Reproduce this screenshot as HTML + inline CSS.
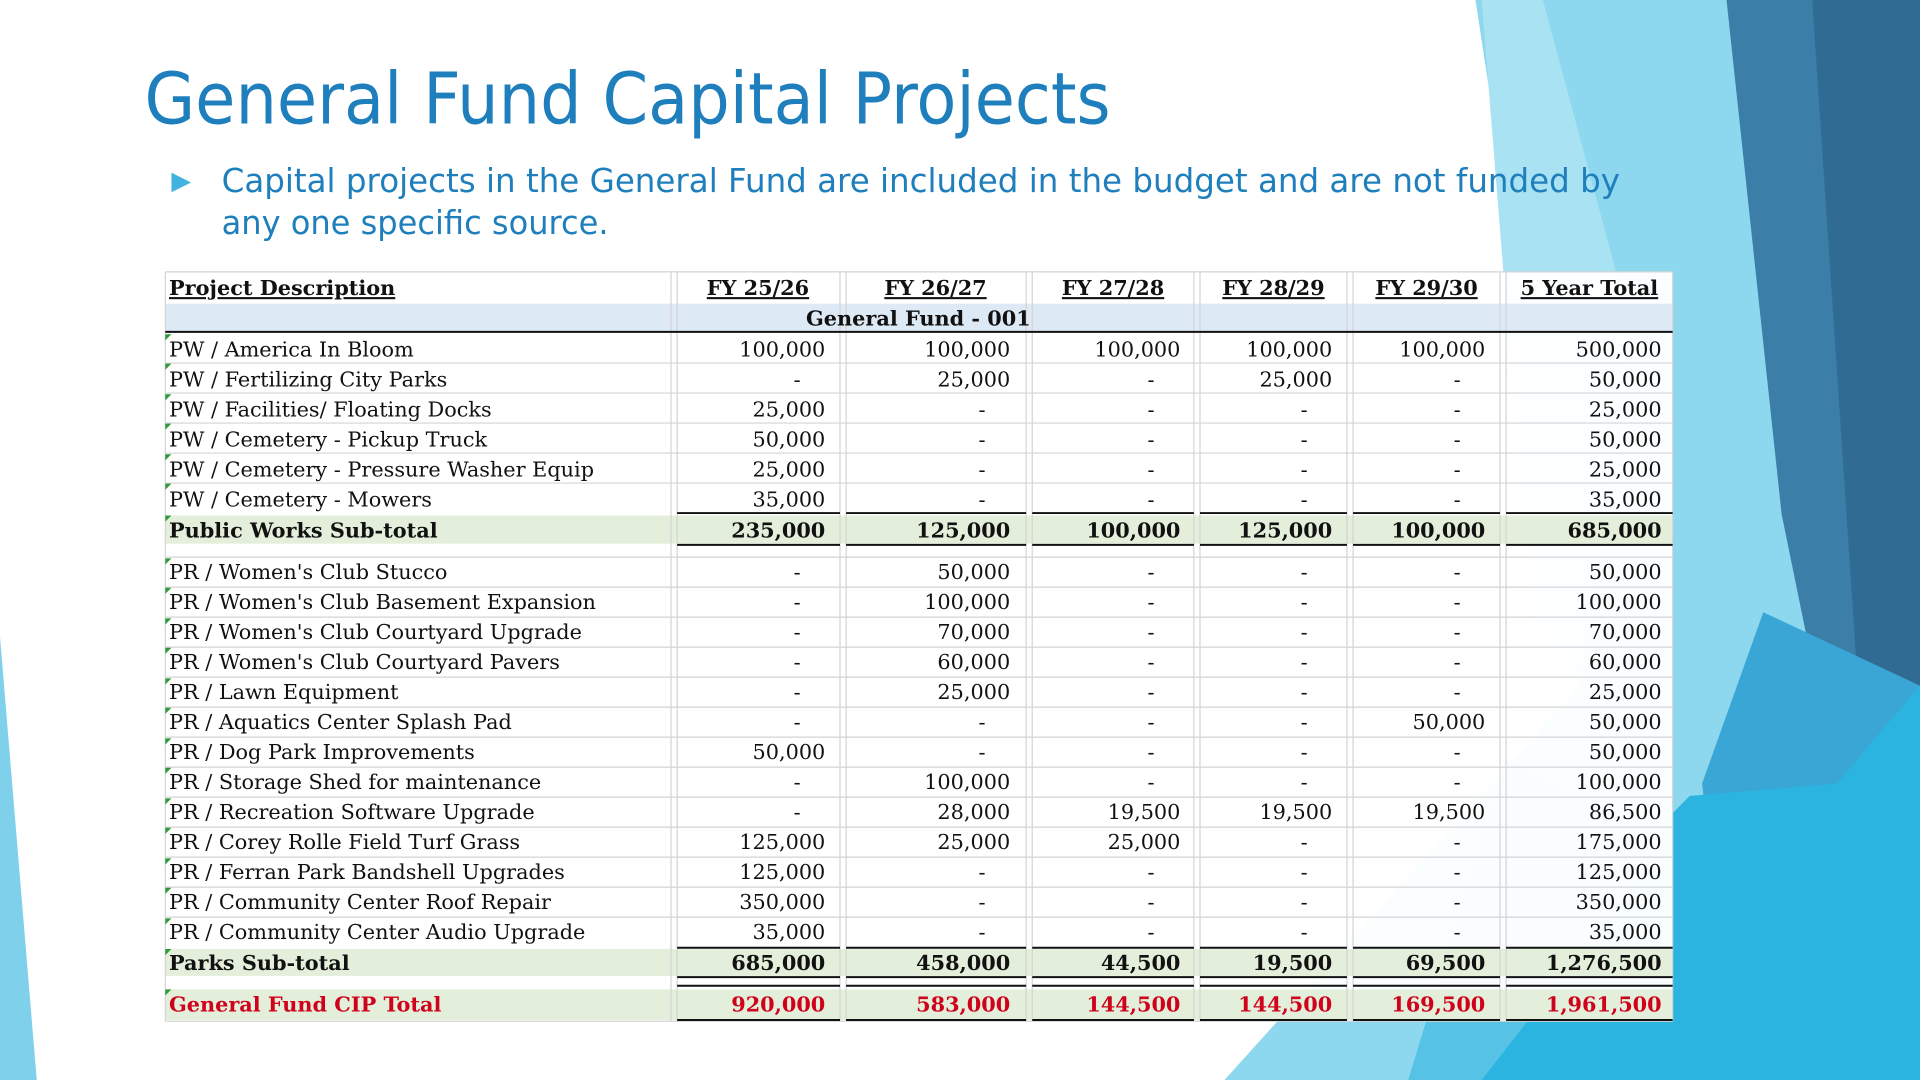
<!DOCTYPE html>
<html><head><meta charset="utf-8"><style>
html,body{margin:0;padding:0;background:#fff;width:1920px;height:1080px;overflow:hidden}
svg{display:block}
.t{font-family:"DejaVu Serif","Liberation Serif",serif;font-size:17px;fill:#111}
.b{font-weight:bold}
.e{text-anchor:end}
.m{text-anchor:middle}
.h{font-weight:bold;text-decoration:underline;text-anchor:middle}
</style></head><body>
<svg width="1920" height="1080" viewBox="0 0 1568 882" preserveAspectRatio="none">
<polygon points="0,520 30,882 0,882" fill="#7fd0ea"/>
<polygon points="1205,0 1410,0 1568,420 1568,882 1000,882 1290,560" fill="#8dd8ee"/>
<polygon points="1210,0 1260,0 1330,260 1290,560 1250,500" fill="#a9e2f3"/>
<polygon points="1410,0 1568,0 1568,640 1500,640 1455,420" fill="#3b7ea8"/>
<polygon points="1480,0 1568,0 1568,560 1520,600" fill="#2f6b93"/>
<polygon points="1440,500 1568,560 1568,882 1420,882 1390,640" fill="#3aa6d6"/>
<polygon points="1150,882 1380,650 1500,640 1568,560 1568,882" fill="#2bb4e0"/>
<polygon points="1230,620 1360,690 1210,882 1150,882" fill="#56c3e6"/>
<text x="118" y="101" font-family="'DejaVu Sans','Liberation Sans',sans-serif" font-size="58" fill="#1f7fbd" textLength="789" lengthAdjust="spacingAndGlyphs">General Fund Capital Projects</text>
<polygon points="140,141 156,149 140,157" fill="#41b3de"/>
<text x="181" y="157" font-family="'DejaVu Sans','Liberation Sans',sans-serif" font-size="27" fill="#1f7fbd" textLength="1142" lengthAdjust="spacingAndGlyphs">Capital projects in the General Fund are included in the budget and are not funded by</text>
<text x="181" y="191" font-family="'DejaVu Sans','Liberation Sans',sans-serif" font-size="27" fill="#1f7fbd" textLength="316" lengthAdjust="spacingAndGlyphs">any one specific source.</text>
<rect x="135" y="222" width="1231" height="612" fill="#fff" opacity="0.97"/>
<rect x="135" y="248" width="1231" height="23" fill="#dde9f5"/>
<rect x="135" y="421" width="1231" height="23" fill="#e3efdb"/>
<rect x="135" y="775" width="1231" height="22" fill="#e3efdb"/>
<rect x="135" y="808" width="1231" height="25" fill="#e3efdb"/>
<g stroke="#d4d4d4" stroke-width="1">
<line x1="135" y1="222" x2="1366" y2="222"/>
<line x1="135" y1="296.5" x2="1366" y2="296.5"/><line x1="135" y1="321" x2="1366" y2="321"/><line x1="135" y1="345.5" x2="1366" y2="345.5"/><line x1="135" y1="370" x2="1366" y2="370"/><line x1="135" y1="394.5" x2="1366" y2="394.5"/>
<line x1="135" y1="455" x2="1366" y2="455"/>
<line x1="135" y1="479.5" x2="1366" y2="479.5"/><line x1="135" y1="504" x2="1366" y2="504"/><line x1="135" y1="528.5" x2="1366" y2="528.5"/><line x1="135" y1="553" x2="1366" y2="553"/><line x1="135" y1="577.5" x2="1366" y2="577.5"/><line x1="135" y1="602" x2="1366" y2="602"/><line x1="135" y1="626.5" x2="1366" y2="626.5"/><line x1="135" y1="651" x2="1366" y2="651"/><line x1="135" y1="675.5" x2="1366" y2="675.5"/><line x1="135" y1="700" x2="1366" y2="700"/><line x1="135" y1="724.5" x2="1366" y2="724.5"/><line x1="135" y1="749" x2="1366" y2="749"/>
<line x1="135" y1="834" x2="1366" y2="834"/>
<line x1="548" y1="222" x2="548" y2="834"/><line x1="553" y1="222" x2="553" y2="834"/>
<line x1="686" y1="222" x2="686" y2="834"/><line x1="691" y1="222" x2="691" y2="834"/>
<line x1="838" y1="222" x2="838" y2="834"/><line x1="843" y1="222" x2="843" y2="834"/>
<line x1="975" y1="222" x2="975" y2="834"/><line x1="980" y1="222" x2="980" y2="834"/>
<line x1="1100" y1="222" x2="1100" y2="834"/><line x1="1105" y1="222" x2="1105" y2="834"/>
<line x1="1225" y1="222" x2="1225" y2="834"/><line x1="1230" y1="222" x2="1230" y2="834"/>
<line x1="1366" y1="222" x2="1366" y2="834"/><line x1="135" y1="222" x2="135" y2="834"/>
</g>
<g stroke="#111" stroke-width="1.6">
<line x1="135" y1="271" x2="1366" y2="271"/>
<path d="M553 419H686M691 419H838M843 419H975M980 419H1100M1105 419H1225M1230 419H1366"/>
<path d="M553 445H686M691 445H838M843 445H975M980 445H1100M1105 445H1225M1230 445H1366"/>
<path d="M553 774H686M691 774H838M843 774H975M980 774H1100M1105 774H1225M1230 774H1366"/>
<path d="M553 798H686M691 798H838M843 798H975M980 798H1100M1105 798H1225M1230 798H1366"/>
<path d="M553 805H686M691 805H838M843 805H975M980 805H1100M1105 805H1225M1230 805H1366"/>
<path d="M553 833H686M691 833H838M843 833H975M980 833H1100M1105 833H1225M1230 833H1366"/>
</g>
<g fill="#2e9a3a">
<path d="M135 273h5l-5 5z"/><path d="M135 297h5l-5 5z"/><path d="M135 322h5l-5 5z"/><path d="M135 346h5l-5 5z"/><path d="M135 371h5l-5 5z"/><path d="M135 395h5l-5 5z"/><path d="M135 421h5l-5 5z"/>
<path d="M135 456h5l-5 5z"/><path d="M135 480h5l-5 5z"/><path d="M135 505h5l-5 5z"/><path d="M135 529h5l-5 5z"/><path d="M135 554h5l-5 5z"/><path d="M135 578h5l-5 5z"/><path d="M135 603h5l-5 5z"/><path d="M135 627h5l-5 5z"/><path d="M135 652h5l-5 5z"/><path d="M135 676h5l-5 5z"/><path d="M135 701h5l-5 5z"/><path d="M135 725h5l-5 5z"/><path d="M135 750h5l-5 5z"/><path d="M135 775h5l-5 5z"/><path d="M135 808h5l-5 5z"/>
</g>
<g class="t">
<text x="138" y="241" class="b" text-decoration="underline">Project Description</text>
<text x="619" y="241" class="h">FY 25/26</text>
<text x="764" y="241" class="h">FY 26/27</text>
<text x="909" y="241" class="h">FY 27/28</text>
<text x="1040" y="241" class="h">FY 28/29</text>
<text x="1165" y="241" class="h">FY 29/30</text>
<text x="1298" y="241" class="h">5 Year Total</text>
<text x="750" y="266" class="b m">General Fund - 001</text>
</g>
<g class="t">
<g transform="translate(0,291)"><text x="138">PW / America In Bloom</text><text x="674" class="e">100,000</text><text x="825" class="e">100,000</text><text x="964" class="e">100,000</text><text x="1088" class="e">100,000</text><text x="1213" class="e">100,000</text><text x="1357" class="e">500,000</text></g>
<g transform="translate(0,315.5)"><text x="138">PW / Fertilizing City Parks</text><text x="651" class="m">-</text><text x="825" class="e">25,000</text><text x="940" class="m">-</text><text x="1088" class="e">25,000</text><text x="1190" class="m">-</text><text x="1357" class="e">50,000</text></g>
<g transform="translate(0,340)"><text x="138">PW / Facilities/ Floating Docks</text><text x="674" class="e">25,000</text><text x="802" class="m">-</text><text x="940" class="m">-</text><text x="1065" class="m">-</text><text x="1190" class="m">-</text><text x="1357" class="e">25,000</text></g>
<g transform="translate(0,364.5)"><text x="138">PW / Cemetery - Pickup Truck</text><text x="674" class="e">50,000</text><text x="802" class="m">-</text><text x="940" class="m">-</text><text x="1065" class="m">-</text><text x="1190" class="m">-</text><text x="1357" class="e">50,000</text></g>
<g transform="translate(0,389)"><text x="138">PW / Cemetery - Pressure Washer Equip</text><text x="674" class="e">25,000</text><text x="802" class="m">-</text><text x="940" class="m">-</text><text x="1065" class="m">-</text><text x="1190" class="m">-</text><text x="1357" class="e">25,000</text></g>
<g transform="translate(0,413.5)"><text x="138">PW / Cemetery - Mowers</text><text x="674" class="e">35,000</text><text x="802" class="m">-</text><text x="940" class="m">-</text><text x="1065" class="m">-</text><text x="1190" class="m">-</text><text x="1357" class="e">35,000</text></g>
<g transform="translate(0,439)" font-weight="bold"><text x="138">Public Works Sub-total</text><text x="674" class="e">235,000</text><text x="825" class="e">125,000</text><text x="964" class="e">100,000</text><text x="1088" class="e">125,000</text><text x="1213" class="e">100,000</text><text x="1357" class="e">685,000</text></g>
<g transform="translate(0,473)"><text x="138">PR / Women's Club Stucco</text><text x="651" class="m">-</text><text x="825" class="e">50,000</text><text x="940" class="m">-</text><text x="1065" class="m">-</text><text x="1190" class="m">-</text><text x="1357" class="e">50,000</text></g>
<g transform="translate(0,497.5)"><text x="138">PR / Women's Club Basement Expansion</text><text x="651" class="m">-</text><text x="825" class="e">100,000</text><text x="940" class="m">-</text><text x="1065" class="m">-</text><text x="1190" class="m">-</text><text x="1357" class="e">100,000</text></g>
<g transform="translate(0,522)"><text x="138">PR / Women's Club Courtyard Upgrade</text><text x="651" class="m">-</text><text x="825" class="e">70,000</text><text x="940" class="m">-</text><text x="1065" class="m">-</text><text x="1190" class="m">-</text><text x="1357" class="e">70,000</text></g>
<g transform="translate(0,546.5)"><text x="138">PR / Women's Club Courtyard Pavers</text><text x="651" class="m">-</text><text x="825" class="e">60,000</text><text x="940" class="m">-</text><text x="1065" class="m">-</text><text x="1190" class="m">-</text><text x="1357" class="e">60,000</text></g>
<g transform="translate(0,571)"><text x="138">PR / Lawn Equipment</text><text x="651" class="m">-</text><text x="825" class="e">25,000</text><text x="940" class="m">-</text><text x="1065" class="m">-</text><text x="1190" class="m">-</text><text x="1357" class="e">25,000</text></g>
<g transform="translate(0,595.5)"><text x="138">PR / Aquatics Center Splash Pad</text><text x="651" class="m">-</text><text x="802" class="m">-</text><text x="940" class="m">-</text><text x="1065" class="m">-</text><text x="1213" class="e">50,000</text><text x="1357" class="e">50,000</text></g>
<g transform="translate(0,620)"><text x="138">PR / Dog Park Improvements</text><text x="674" class="e">50,000</text><text x="802" class="m">-</text><text x="940" class="m">-</text><text x="1065" class="m">-</text><text x="1190" class="m">-</text><text x="1357" class="e">50,000</text></g>
<g transform="translate(0,644.5)"><text x="138">PR / Storage Shed for maintenance</text><text x="651" class="m">-</text><text x="825" class="e">100,000</text><text x="940" class="m">-</text><text x="1065" class="m">-</text><text x="1190" class="m">-</text><text x="1357" class="e">100,000</text></g>
<g transform="translate(0,669)"><text x="138">PR / Recreation Software Upgrade</text><text x="651" class="m">-</text><text x="825" class="e">28,000</text><text x="964" class="e">19,500</text><text x="1088" class="e">19,500</text><text x="1213" class="e">19,500</text><text x="1357" class="e">86,500</text></g>
<g transform="translate(0,693.5)"><text x="138">PR / Corey Rolle Field Turf Grass</text><text x="674" class="e">125,000</text><text x="825" class="e">25,000</text><text x="964" class="e">25,000</text><text x="1065" class="m">-</text><text x="1190" class="m">-</text><text x="1357" class="e">175,000</text></g>
<g transform="translate(0,718)"><text x="138">PR / Ferran Park Bandshell Upgrades</text><text x="674" class="e">125,000</text><text x="802" class="m">-</text><text x="940" class="m">-</text><text x="1065" class="m">-</text><text x="1190" class="m">-</text><text x="1357" class="e">125,000</text></g>
<g transform="translate(0,742.5)"><text x="138">PR / Community Center Roof Repair</text><text x="674" class="e">350,000</text><text x="802" class="m">-</text><text x="940" class="m">-</text><text x="1065" class="m">-</text><text x="1190" class="m">-</text><text x="1357" class="e">350,000</text></g>
<g transform="translate(0,767)"><text x="138">PR / Community Center Audio Upgrade</text><text x="674" class="e">35,000</text><text x="802" class="m">-</text><text x="940" class="m">-</text><text x="1065" class="m">-</text><text x="1190" class="m">-</text><text x="1357" class="e">35,000</text></g>
<g transform="translate(0,792)" font-weight="bold"><text x="138">Parks Sub-total</text><text x="674" class="e">685,000</text><text x="825" class="e">458,000</text><text x="964" class="e">44,500</text><text x="1088" class="e">19,500</text><text x="1213" class="e">69,500</text><text x="1357" class="e">1,276,500</text></g>
<g transform="translate(0,826)" font-weight="bold" fill="#d0021b"><text x="138">General Fund CIP Total</text><text x="674" class="e">920,000</text><text x="825" class="e">583,000</text><text x="964" class="e">144,500</text><text x="1088" class="e">144,500</text><text x="1213" class="e">169,500</text><text x="1357" class="e">1,961,500</text></g>
</g>
</svg>
</body></html>
